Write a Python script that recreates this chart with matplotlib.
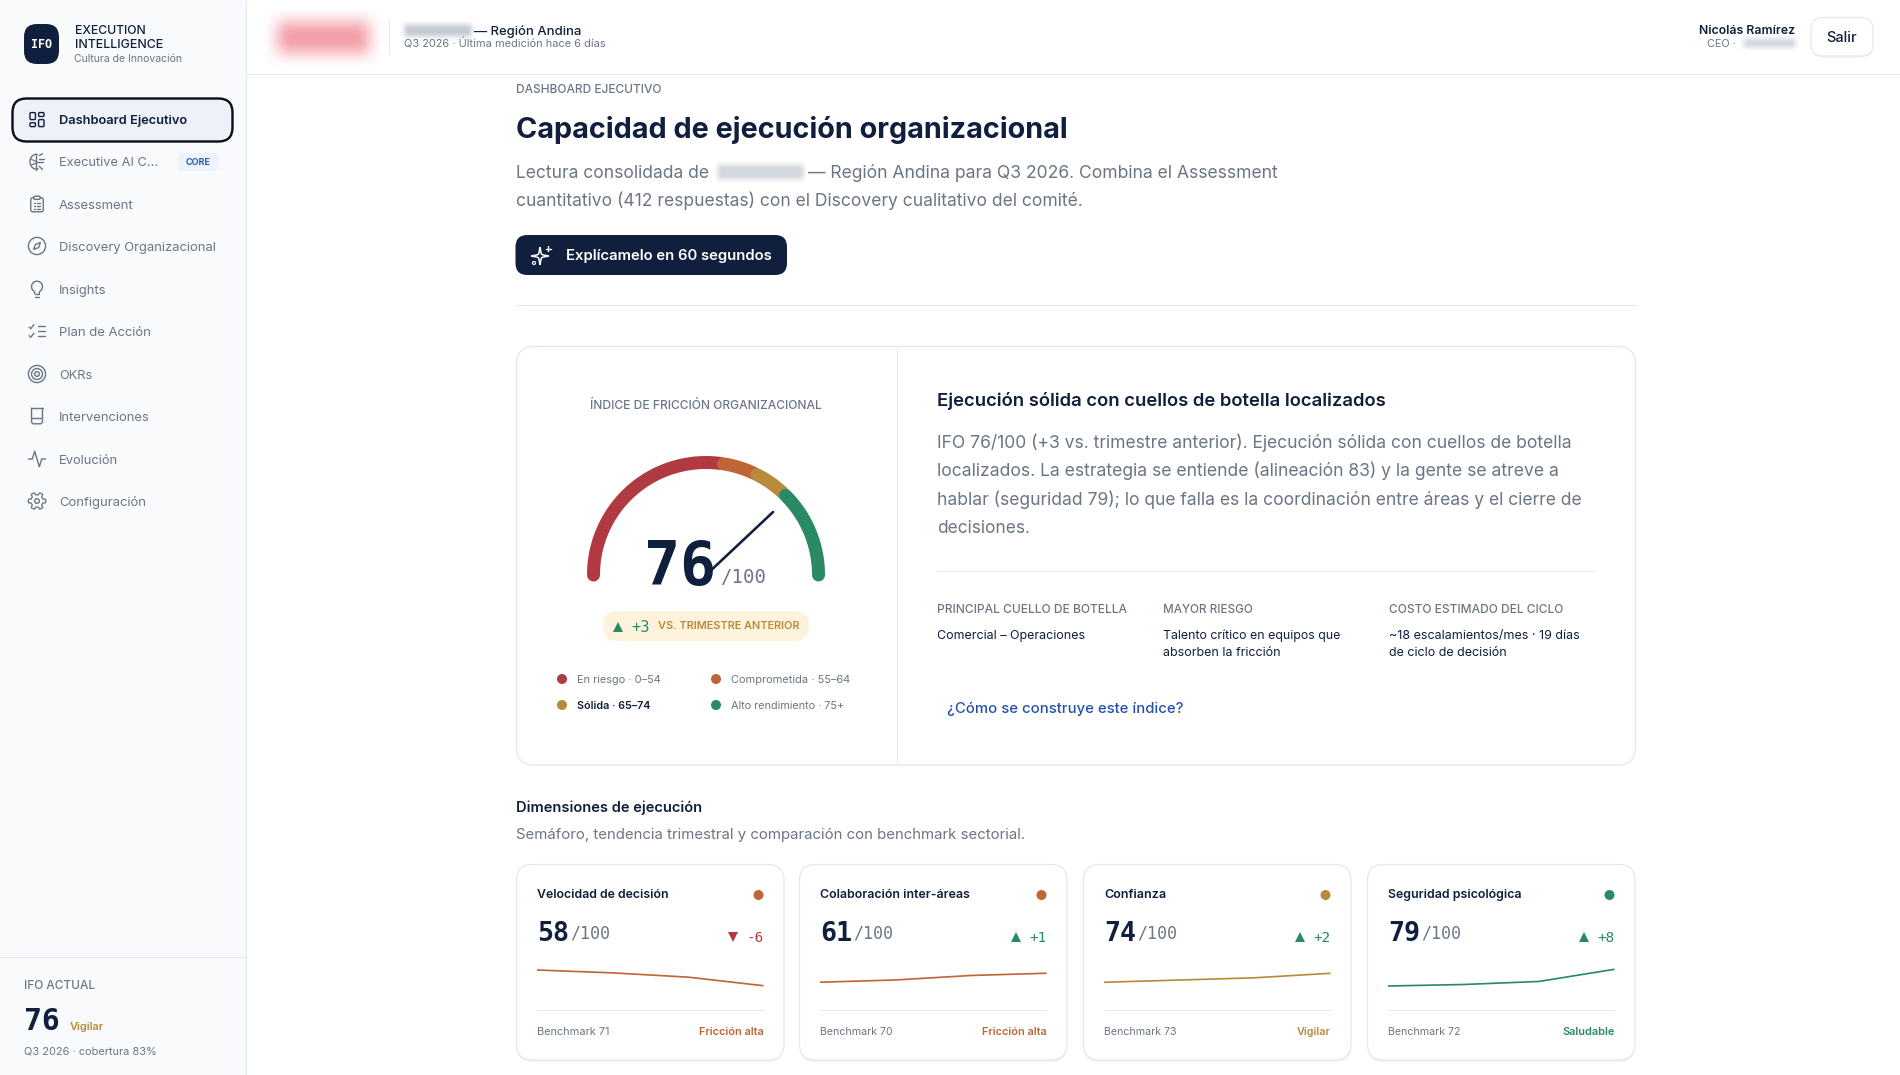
import numpy as np
import matplotlib
matplotlib.use("Agg")
import matplotlib.pyplot as plt
from matplotlib.patches import FancyBboxPatch, Circle, Rectangle, Polygon
from matplotlib.colors import to_rgb

# ---------- data ----------
ifo_value = 76
gauge_bands = [(0, 54), (55, 64), (65, 74), (75, 100)]
band_colors = ["#b13a42", "#c06535", "#b98a3a", "#2a8a66"]
legend_labels = ["En riesgo · 0–54", "Comprometida · 55–64", "Sólida · 65–74", "Alto rendimiento · 75+"]

nav_labels = ["Dashboard Ejecutivo", "Executive AI C...", "Assessment", "Discovery Organizacional",
              "Insights", "Plan de Acción", "OKRs", "Intervenciones", "Evolución", "Configuración"]

dim_names = ["Velocidad de decisión", "Colaboración inter-áreas", "Confianza", "Seguridad psicológica"]
dim_scores = [58, 61, 74, 79]
dim_deltas = [-6, 1, 2, 8]
dim_bench = [71, 70, 73, 72]
dim_status = ["Fricción alta", "Fricción alta", "Vigilar", "Saludable"]
dim_colors = ["#c06535", "#c06535", "#b98a3a", "#2a8a66"]
dim_trend = [[69, 67, 64, 58], [57, 58, 60, 61], [70, 71, 72, 74], [68, 69, 71, 79]]
dim_ylim = [(51.5, 76.0), (51.3, 66.9), (64.35, 79.9), (62.1, 85.1)]

# ---------- palette ----------
NAVY = "#0f1f3d"
GRAY = "#6b7684"
LINE = "#e2e8f0"
SIDE = "#f8fafc"
MONO = "DejaVu Sans Mono"
SANS = "Inter"

W, H = 1900, 1075
fig = plt.figure(figsize=(W / 100, H / 100), dpi=100, facecolor="white")
ax = fig.add_axes([0, 0, 1, 1])
ax.set_xlim(0, W)
ax.set_ylim(H, 0)
ax.axis("off")
rend = fig.canvas.get_renderer()


def T(x, y, s, px=13, color=NAVY, weight="normal", ha="left", w=None, family=SANS, z=5):
    """Text whose visual centre sits at y; with w, the font size is fitted to a pixel width."""
    t = ax.text(x, y, s, fontsize=px * 0.72, color=color, fontweight=weight, ha=ha, va="baseline",
                family=family, zorder=z)
    if w is not None:
        e = t.get_window_extent(rend)
        px = px * w / e.width
        t.set_fontsize(px * 0.72)
    t.set_y(y + 0.36 * px)
    return t


def RR(x0, y0, x1, y1, r, fc="white", ec="none", lw=1, z=1):
    p = FancyBboxPatch((x0, y0), x1 - x0, y1 - y0, boxstyle=f"round,pad=0,rounding_size={r}",
                       fc=fc, ec=ec, lw=lw * 0.72, zorder=z)
    ax.add_patch(p)
    return p


def L(xs, ys, c=LINE, lw=1, z=2, cap="round"):
    ax.plot(xs, ys, color=c, lw=lw * 0.72, solid_capstyle=cap, solid_joinstyle="round", zorder=z)


def blur(x0, y0, x1, y1, color, a, s, z=2):
    """Soft-edged blob for the redacted regions."""
    xs = np.arange(x0 - s, x1 + s)
    ys = np.arange(y0 - s, y1 + s)
    def edge(v, lo, hi):
        t = np.clip(np.minimum((v - lo + s) / (2 * s), (hi + s - v) / (2 * s)), 0, 1)
        return t * t * (3 - 2 * t)
    alpha = np.outer(edge(ys, y0, y1), edge(xs, x0, x1)) * a
    arr = np.zeros(alpha.shape + (4,))
    arr[..., :3] = to_rgb(color)
    arr[..., 3] = alpha
    ax.imshow(arr, extent=(x0 - s, x1 + s, y1 + s, y0 - s), aspect="auto", zorder=z, interpolation="bilinear")
    ax.set_xlim(0, W)
    ax.set_ylim(H, 0)


# ---------- sidebar ----------
ax.add_patch(Rectangle((0, 0), 246, H, fc=SIDE, ec="none", zorder=0))
L([246, 246], [0, H], cap="butt")
L([246, W], [74, 74], cap="butt")
L([0, 246], [957, 957], cap="butt")

RR(24, 24, 59, 64, 13, fc=NAVY)
T(41.5, 44, "IFO", 11, "white", "bold", "center", w=21, family=MONO)
T(74.5, 30, "EXECUTION", 11, NAVY, "medium", w=71)
T(74.5, 44, "INTELLIGENCE", 11, NAVY, "medium", w=88.5)
T(74.5, 58.5, "Cultura de Innovación", 10.5, GRAY, w=108)

nav_y = [119.6, 161.7, 204, 246, 289, 331, 374, 416, 459, 501]
nav_w = [129, 99, 75, 157, 47.5, 92, 33, 91, 59, 87]
RR(12.5, 98.5, 232.5, 141.5, 14, fc="#eef1f7", ec="#0b0f1a", lw=2.4)
for i, (lab, y, w) in enumerate(zip(nav_labels, nav_y, nav_w)):
    T(59, y, lab, 13, NAVY if i == 0 else GRAY, "semibold" if i == 0 else "normal", w=w)
RR(178, 153, 219, 171, 5, fc="#edf3fc")
T(198.5, 162, "CORE", 9, "#2b5cb8", "bold", "center", w=25)


def ic(cy, c=GRAY):
    """Map a 24-unit icon grid onto the nav column."""
    k = 0.78
    return (lambda u: 37 + (np.asarray(u, float) - 12) * k), (lambda v: cy + (np.asarray(v, float) - 12) * k), k


def circ(cx, cy, r, c=GRAY, lw=1.4, fc="none", z=3):
    ax.add_patch(Circle((cx, cy), r, fc=fc, ec=c, lw=lw * 0.72, zorder=z))


# dashboard
fx, fy, k = ic(nav_y[0])
for a, b, cw, ch in [(3, 3, 7, 9), (14, 3, 7, 5), (14, 12, 7, 9), (3, 16, 7, 5)]:
    RR(fx(a), fy(b), fx(a + cw), fy(b + ch), 1.2, fc="none", ec=NAVY, lw=1.4, z=3)
# brain-circuit
fx, fy, k = ic(nav_y[1])
th = np.linspace(np.pi * 0.45, np.pi * 1.6, 40)
L(fx(11 + 8 * np.cos(th)), fy(12 - 9.5 * np.sin(th)), GRAY, 1.4)
L(fx([11, 11]), fy([2, 22]), GRAY, 1.4)
L(fx([11, 20]), fy([13, 13]), GRAY, 1.4)
L(fx([15, 21]), fy([8, 8]), GRAY, 1.4)
L(fx([15, 19]), fy([18, 22]), GRAY, 1.4)
L(fx([15, 19]), fy([4, 2]), GRAY, 1.4)
L(fx([5, 11]), fy([9, 12]), GRAY, 1.2)
L(fx([5, 11]), fy([16, 14]), GRAY, 1.2)
# clipboard
fx, fy, k = ic(nav_y[2])
RR(fx(4), fy(4), fx(20), fy(22), 2, fc="none", ec=GRAY, lw=1.4, z=3)
RR(fx(8), fy(2), fx(16), fy(6), 1, fc=SIDE, ec=GRAY, lw=1.4, z=3)
for v in (11, 15, 19):
    L(fx([8, 9]), fy([v, v]), GRAY, 1.4)
    L(fx([12, 16]), fy([v, v]), GRAY, 1.4)
# compass
fx, fy, k = ic(nav_y[3])
circ(37, nav_y[3], 11 * k)
ax.add_patch(Polygon(np.c_[fx([16.5, 14, 7.5, 10]), fy([7.5, 14, 16.5, 10])], closed=True, fc="none", ec=GRAY,
                     lw=1.0, zorder=3))
# bulb
fx, fy, k = ic(nav_y[4])
th = np.radians(np.linspace(-35, 215, 40))
L(fx(12 + 7 * np.cos(th)), fy(9 - 7 * np.sin(th)), GRAY, 1.4)
L(fx([6.3, 9, 9]), fy([13, 16, 18]), GRAY, 1.4)
L(fx([17.7, 15, 15]), fy([13, 16, 18]), GRAY, 1.4)
L(fx([9, 15]), fy([18, 18]), GRAY, 1.4)
L(fx([10, 14]), fy([22, 22]), GRAY, 1.4)
# checklist
fx, fy, k = ic(nav_y[5])
for v in (5, 12, 19):
    L(fx([13, 22]), fy([v, v]), GRAY, 1.4)
L(fx([2, 4, 8]), fy([7, 9, 4]), GRAY, 1.4)
L(fx([2, 4, 8]), fy([18, 20, 15]), GRAY, 1.4)
# target
fx, fy, k = ic(nav_y[6])
for r in (11, 7, 3):
    circ(37, nav_y[6], r * k)
# interventions
fx, fy, k = ic(nav_y[7])
L(fx([4, 20]), fy([2, 2]), GRAY, 1.4)
L(fx([5, 5, 7, 17, 19, 19]), fy([2, 20, 22, 22, 20, 2]), GRAY, 1.4)
L(fx([5, 19]), fy([15, 15]), GRAY, 1.4)
# pulse
fx, fy, k = ic(nav_y[8])
L(fx([1, 6, 9, 15, 18, 23]), fy([12, 12, 2, 22, 12, 12]), GRAY, 1.4)
# gear
fx, fy, k = ic(nav_y[9])
th = np.linspace(0, 2 * np.pi, 241)
rg = 9.5 + 1.6 * np.clip(3.2 * np.cos(6 * th), -1, 1)
L(fx(12 + rg * np.cos(th)), fy(12 + rg * np.sin(th)), GRAY, 1.3)
circ(37, nav_y[9], 3 * k)

# sidebar footer
T(24, 985, "IFO ACTUAL", 10.5, GRAY, "medium", w=71)
T(24, 1019, "76", 30, NAVY, "bold", w=36, family=MONO)
T(70, 1026, "Vigilar", 11.5, "#b98a3a", "semibold", w=34)
T(24, 1051, "Q3 2026 · cobertura 83%", 11, GRAY, w=132.5)

# ---------- header ----------
blur(277, 21, 369, 53, "#f29aa4", 0.95, 15)
blur(404, 24, 471, 36, "#b6bcc8", 0.8, 5)
L([388.6, 388.6], [19, 54], cap="butt")
T(473.5, 30, "— Región Andina", 13, NAVY, "medium", w=107.5)
T(404, 44, "Q3 2026 · Última medición hace 6 días", 11, GRAY, w=201)
T(1795, 29.5, "Nicolás Ramírez", 12.5, NAVY, "semibold", "right", w=96)
T(1707, 42.7, "CEO ·", 11, GRAY, w=29)
blur(1743, 38, 1795, 47, "#c4c9d3", 0.75, 5)
RR(1811, 19, 1873, 57.5, 12, fc="#eef1f5", z=1)
RR(1811, 17.5, 1873, 56, 12, fc="white", ec=LINE, lw=1.2, z=2)
T(1842, 37, "Salir", 15, NAVY, "medium", "center", w=31)

# ---------- main intro ----------
T(515.5, 89, "DASHBOARD EJECUTIVO", 10.5, GRAY, "medium", w=146)
T(515.5, 127.5, "Capacidad de ejecución organizacional", 30, NAVY, "bold", w=552)
T(515.5, 171.5, "Lectura consolidada de", 17.5, GRAY, w=193)
blur(717, 164, 803, 179, "#c8cdd6", 0.8, 5)
T(807.5, 171.5, "— Región Andina para Q3 2026. Combina el Assessment", 17.5, GRAY, w=470)
T(515.5, 200, "cuantitativo (412 respuestas) con el Discovery cualitativo del comité.", 17.5, GRAY, w=567)
RR(515.5, 235, 787, 275, 12, fc=NAVY)
T(566, 254.5, "Explícamelo en 60 segundos", 15, "white", "semibold", w=206)
# sparkle icon
sx, sy = 541, 255
th = np.arange(16) * np.pi / 8 - np.pi / 2
rs = np.array([9, 3, 2.4, 3] * 4)
ax.add_patch(Polygon(np.c_[sx - 1 + rs * np.cos(th), sy + 1 + rs * np.sin(th)], closed=True, fc="none", ec="white",
                     lw=1.1, zorder=3))
L([sx + 7, sx + 7], [sy - 9, sy - 4], "white", 1.4)
L([sx + 4.5, sx + 9.5], [sy - 6.5, sy - 6.5], "white", 1.4)
circ(sx - 7, sy + 8, 1.5, "white", 1.2)
L([515.5, 1635.5], [305, 305], cap="butt")

# ---------- big card ----------
RR(516.5, 346.5, 1635.5, 765, 18, fc="white", ec=LINE, lw=1.3)
L([896.5, 896.5], [347, 765], cap="butt")
T(706, 405, "ÍNDICE DE FRICCIÓN ORGANIZACIONAL", 10.5, GRAY, "medium", "center", w=233)

cx, cy, R = 706, 575, 112.5


def val_xy(v, r):
    a = np.pi * (1 - np.asarray(v, float) / 100)
    return cx + r * np.cos(a), cy - r * np.sin(a)


for (lo, hi), c in zip(gauge_bands, band_colors):
    xs, ys = val_xy(np.linspace(lo, hi, 60), R)
    L(xs, ys, c, 13, z=3)
xs, ys = val_xy([0, ifo_value], 92)
L([cx, xs[1]], [cy, ys[1]], NAVY, 2.6, z=6)
T(644.5, 563, str(ifo_value), 58, NAVY, "bold", w=72, family=MONO)
T(720.5, 576, "/100", 19, GRAY, "normal", w=46, family=MONO)

RR(603, 611, 809, 641, 15, fc="#fdf3dc")
ax.plot([617.5], [627], marker="^", ms=7.5, color="#2a8a66", ls="none", zorder=4, mew=0)
T(631.5, 626.5, "+3", 15, "#2a8a66", "normal", w=18.5, family=MONO)
T(657.7, 625, "VS. TRIMESTRE ANTERIOR", 10.5, "#b98a3a", "semibold", w=141)

leg_x = [562, 716, 562, 716]
leg_y = [679, 679, 705, 705]
leg_w = [83.5, 119, 73.5, 114]
for i, (lab, c) in enumerate(zip(legend_labels, band_colors)):
    ax.add_patch(Circle((leg_x[i], leg_y[i]), 5, fc=c, ec="none", zorder=4))
    bold = i == 2
    T(leg_x[i] + 14.8, leg_y[i], lab, 11, NAVY if bold else GRAY, "semibold" if bold else "normal", w=leg_w[i])

T(937, 399, "Ejecución sólida con cuellos de botella localizados", 18.5, NAVY, "semibold", w=448)
para = ["IFO 76/100 (+3 vs. trimestre anterior). Ejecución sólida con cuellos de botella",
        "localizados. La estrategia se entiende (alineación 83) y la gente se atreve a",
        "hablar (seguridad 79); lo que falla es la coordinación entre áreas y el cierre de",
        "decisiones."]
for s, y, w in zip(para, [441.7, 470, 498.6, 526.5], [635, 620.5, 644, 93]):
    T(937, y, s, 17.5, GRAY, w=w)
L([937, 1595], [570.7, 570.7], cap="butt")
col_x = [937, 1163, 1389]
heads = ["PRINCIPAL CUELLO DE BOTELLA", "MAYOR RIESGO", "COSTO ESTIMADO DEL CICLO"]
for x, s, w in zip(col_x, heads, [190, 90, 175]):
    T(x, 609, s, 10.5, GRAY, "medium", w=w)
T(col_x[0], 634.5, "Comercial – Operaciones", 13, NAVY, w=147.5)
T(col_x[1], 634.5, "Talento crítico en equipos que", 13, NAVY, w=177)
T(col_x[1], 651.5, "absorben la fricción", 13, NAVY, w=116.5)
T(col_x[2], 634.5, "~18 escalamientos/mes · 19 días", 13, NAVY, w=189)
T(col_x[2], 651.5, "de ciclo de decisión", 13, NAVY, w=117)
T(947, 707.6, "¿Cómo se construye este índice?", 15, "#2650a8", "medium", w=236.5)

# ---------- dimensions ----------
T(515.5, 806.4, "Dimensiones de ejecución", 15.5, NAVY, "semibold", w=185)
T(515.5, 833.6, "Semáforo, tendencia trimestral y comparación con benchmark sectorial.", 14.5, GRAY, w=511.5)

card_x = [516.5, 799.5, 1083.5, 1367.5]
CW = 267.5
title_w = [132, 150, 62, 134]
for i in range(4):
    x0 = card_x[i]
    x1 = x0 + CW
    a, b = x0 + 20.5, x1 - 20.5
    c = dim_colors[i]
    RR(x0, 866, x1, 1062, 16, fc="#f1f4f8", z=0.8)
    RR(x0, 864.5, x1, 1060, 16, fc="white", ec=LINE, lw=1.2)
    T(a, 893.7, dim_names[i], 13, NAVY, "semibold", w=title_w[i])
    ax.add_patch(Circle((b - 5, 895), 5, fc=c, ec="none", zorder=4))
    T(a, 931, str(dim_scores[i]), 26, NAVY, "bold", w=32, family=MONO)
    T(a + 33, 933, "/100", 17, GRAY, "normal", w=40, family=MONO)
    d = dim_deltas[i]
    dc = "#2a8a66" if d > 0 else "#b13a42"
    T(b, 936.7, f"{d:+d}", 14, dc, "normal", "right", w=17, family=MONO)
    ax.plot([b - 31], [937], marker="^" if d > 0 else "v", ms=6.5, color=dc, ls="none", mew=0, zorder=4)
    sp = fig.add_axes([a / W, 1 - 995 / H, (b - a) / W, 35 / H])
    sp.patch.set_alpha(0)
    sp.axis("off")
    sp.set_xlim(0, len(dim_trend[i]) - 1)
    sp.set_ylim(*dim_ylim[i])
    sp.plot(range(len(dim_trend[i])), dim_trend[i], color=c, lw=1.7 * 0.72, solid_capstyle="butt", clip_on=False)
    L([a, b], [1010.3, 1010.3], cap="butt")
    T(a, 1031.3, f"Benchmark {dim_bench[i]}", 11, GRAY, w=72.5)
    st_w = {"Fricción alta": 64.5, "Vigilar": 33.5, "Saludable": 52.5}[dim_status[i]]
    T(b, 1031.3, dim_status[i], 11, c, "semibold", "right", w=st_w)

fig.savefig("out.png", dpi=100, facecolor="white")
